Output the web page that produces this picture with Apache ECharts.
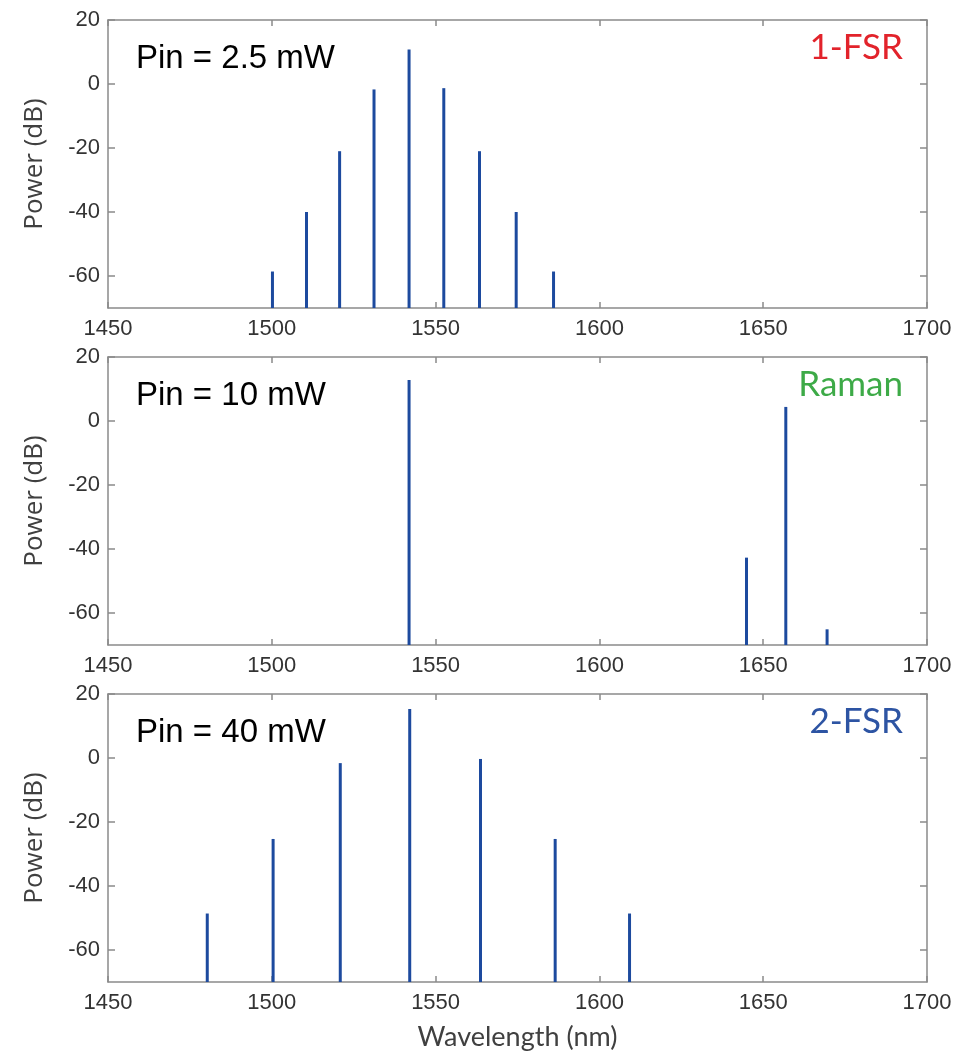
<!DOCTYPE html>
<html>
<head>
<meta charset="utf-8">
<title>Comb spectra</title>
<script src="https://cdn.jsdelivr.net/npm/echarts@6.0.0/dist/echarts.min.js"></script>
<style>
  html, body { margin: 0; padding: 0; background: #fff; }
  #chart { width: 963px; height: 1058px; }
</style>
</head>
<body>
<div id="chart"></div>
<script>
// values
var fsr1Wl = [1500.2, 1510.6, 1520.7, 1531.2, 1541.9, 1552.5, 1563.4, 1574.6, 1586.0];
var fsr1Pw = [-58.6, -40, -21, -1.7, 10.8, -1.3, -21, -40, -58.6];
var ramanWl = [1541.9, 1644.9, 1656.9, 1669.5];
var ramanPw = [12.8, -42.7, 4.4, -65.1];
var fsr2Wl = [1480.3, 1500.4, 1520.9, 1542.1, 1563.7, 1586.5, 1609.2];
var fsr2Pw = [-48.6, -25.3, -1.6, 15.3, -0.3, -25.3, -48.6];

var pinLabels = ['Pin = 2.5 mW', 'Pin = 10 mW', 'Pin = 40 mW'];
var tagLabels = ['1-FSR', 'Raman', '2-FSR'];
var tagColors = ['#e2232b', '#3daa47', '#2d54a3'];
var yTicks = [-60, -40, -20, 0, 20];
var xMin = 1450, xMax = 1700, xStep = 50;
var yMin = -70, yMax = 20;

var panels = [
    {wl: fsr1Wl, pw: fsr1Pw, top: 20},
    {wl: ramanWl, pw: ramanPw, top: 357},
    {wl: fsr2Wl, pw: fsr2Pw, top: 694}
];

var myChart;
window.onload = function () {
    myChart = echarts.init(document.getElementById('chart'));
    initChart();
};

function initChart() {
    var axisColor = '#8a8a8a';
    var grids = [], xAxes = [], yAxes = [], series = [], graphics = [];

    panels.forEach(function (p, i) {
        grids.push({left: 108, top: p.top, width: 819, height: 288});

        // bottom + top x axes (top one only for the inner ticks)
        xAxes.push({
            type: 'value', gridIndex: i, min: xMin, max: xMax, interval: xStep,
            position: 'bottom',
            name: i === 2 ? 'Wavelength (nm)' : '',
            nameLocation: 'middle', nameGap: 42,
            nameTextStyle: {fontFamily: 'Lato', fontSize: 27, color: '#404040'},
            axisLine: {onZero: false, lineStyle: {color: axisColor, width: 1.5}},
            axisTick: {inside: true, length: 6, lineStyle: {color: axisColor, width: 1.5}},
            axisLabel: {fontFamily: 'Arial', fontSize: 22, color: '#333', margin: 10,
                formatter: function (v) { return String(v); }},
            splitLine: {show: false}
        });
        xAxes.push({
            type: 'value', gridIndex: i, min: xMin, max: xMax, interval: xStep,
            position: 'top',
            axisLine: {onZero: false, lineStyle: {color: axisColor, width: 1.5}},
            axisTick: {inside: true, length: 6, lineStyle: {color: axisColor, width: 1.5}},
            axisLabel: {show: false},
            splitLine: {show: false}
        });

        yAxes.push({
            type: 'value', gridIndex: i, min: yMin, max: yMax,
            position: 'left',
            name: 'Power (dB)', nameLocation: 'middle', nameGap: 60,
            nameTextStyle: {fontFamily: 'Open Sans', fontSize: 26, color: '#404040'},
            axisLine: {show: true, onZero: false, lineStyle: {color: axisColor, width: 1.5}},
            axisTick: {show: true, inside: true, length: 7, customValues: yTicks,
                lineStyle: {color: axisColor, width: 1.5}},
            axisLabel: {customValues: yTicks, fontFamily: 'Arial', fontSize: 22,
                color: '#333', margin: 8},
            splitLine: {show: false}
        });
        yAxes.push({
            type: 'value', gridIndex: i, min: yMin, max: yMax,
            position: 'right',
            axisLine: {show: true, onZero: false, lineStyle: {color: axisColor, width: 1.5}},
            axisTick: {show: true, inside: true, length: 7, customValues: yTicks,
                lineStyle: {color: axisColor, width: 1.5}},
            axisLabel: {show: false},
            splitLine: {show: false}
        });

        var data = p.wl.map(function (w, k) { return [w, p.pw[k]]; });
        series.push({
            type: 'custom',
            xAxisIndex: i * 2,
            yAxisIndex: i * 2,
            data: data,
            renderItem: function (params, api) {
                var tip = api.coord([api.value(0), api.value(1)]);
                var base = api.coord([api.value(0), yMin]);
                return {
                    type: 'line',
                    shape: {x1: tip[0], y1: tip[1], x2: base[0], y2: base[1]},
                    style: {stroke: '#1d4a9e', lineWidth: 3}
                };
            }
        });

        graphics.push({
            type: 'text', left: 136, top: p.top + 22,
            style: {text: pinLabels[i], fontFamily: 'Arial', fontSize: 33, fill: '#000'}
        });
        graphics.push({
            type: 'text', right: 60, top: p.top + 10,
            style: {text: tagLabels[i], fontFamily: 'Lato', fontSize: 35, fill: tagColors[i]}
        });
    });

    var option = {
        animation: false,
        backgroundColor: '#fff',
        grid: grids,
        xAxis: xAxes,
        yAxis: yAxes,
        series: series,
        graphic: graphics
    };
    myChart.setOption(option);
}
</script>
</body>
</html>
